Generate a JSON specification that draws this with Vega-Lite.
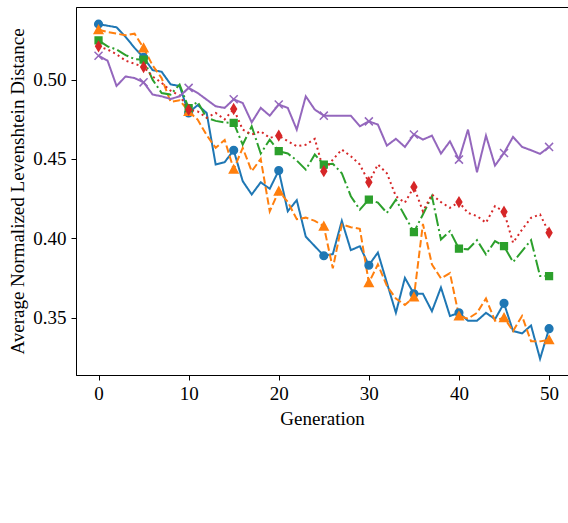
{
"$schema": "https://vega.github.io/schema/vega-lite/v6.json",
"width": 492,
"height": 368,
"autosize": {"type": "none"},
"padding": {"left": 76, "top": 7, "right": 0, "bottom": 148},
"config": {
  "view": {"stroke": "black", "strokeWidth": 1},
  "font": "Liberation Serif",
  "axis": {"labelFont": "Liberation Serif", "titleFont": "Liberation Serif", "labelFontSize": 19, "titleFontSize": 19, "titleFontWeight": "normal", "labelColor": "black", "titleColor": "black", "domainColor": "black", "tickColor": "black", "domainWidth": 1, "tickWidth": 1, "grid": false}
},
"data": {"values": [
{"g":0,"s":"1.00","v":0.535},{"g":1,"s":"1.00","v":0.534},{"g":2,"s":"1.00","v":0.533},{"g":3,"s":"1.00","v":0.527},{"g":4,"s":"1.00","v":0.520},{"g":5,"s":"1.00","v":0.514},{"g":6,"s":"1.00","v":0.506},{"g":7,"s":"1.00","v":0.505},{"g":8,"s":"1.00","v":0.497},{"g":9,"s":"1.00","v":0.496},{"g":10,"s":"1.00","v":0.479},
{"g":11,"s":"1.00","v":0.484},{"g":12,"s":"1.00","v":0.479},{"g":13,"s":"1.00","v":0.4465},{"g":14,"s":"1.00","v":0.448},{"g":15,"s":"1.00","v":0.4555},{"g":16,"s":"1.00","v":0.436},{"g":17,"s":"1.00","v":0.4276},{"g":18,"s":"1.00","v":0.4353},{"g":19,"s":"1.00","v":0.4312},{"g":20,"s":"1.00","v":0.4427},
{"g":21,"s":"1.00","v":0.417},{"g":22,"s":"1.00","v":0.424},{"g":23,"s":"1.00","v":0.401},{"g":24,"s":"1.00","v":0.395},{"g":25,"s":"1.00","v":0.389},{"g":26,"s":"1.00","v":0.390},{"g":27,"s":"1.00","v":0.411},{"g":28,"s":"1.00","v":0.3925},{"g":29,"s":"1.00","v":0.395},{"g":30,"s":"1.00","v":0.383},
{"g":31,"s":"1.00","v":0.391},{"g":32,"s":"1.00","v":0.372},{"g":33,"s":"1.00","v":0.353},{"g":34,"s":"1.00","v":0.375},{"g":35,"s":"1.00","v":0.365},{"g":36,"s":"1.00","v":0.365},{"g":37,"s":"1.00","v":0.354},{"g":38,"s":"1.00","v":0.369},{"g":39,"s":"1.00","v":0.351},{"g":40,"s":"1.00","v":0.353},
{"g":41,"s":"1.00","v":0.348},{"g":42,"s":"1.00","v":0.348},{"g":43,"s":"1.00","v":0.353},{"g":44,"s":"1.00","v":0.349},{"g":45,"s":"1.00","v":0.359},{"g":46,"s":"1.00","v":0.3415},{"g":47,"s":"1.00","v":0.340},{"g":48,"s":"1.00","v":0.345},{"g":49,"s":"1.00","v":0.324},{"g":50,"s":"1.00","v":0.343},
{"g":0,"s":"0.99","v":0.5315},{"g":1,"s":"0.99","v":0.530},{"g":2,"s":"0.99","v":0.529},{"g":3,"s":"0.99","v":0.528},{"g":4,"s":"0.99","v":0.529},{"g":5,"s":"0.99","v":0.520},{"g":6,"s":"0.99","v":0.509},{"g":7,"s":"0.99","v":0.501},{"g":8,"s":"0.99","v":0.486},{"g":9,"s":"0.99","v":0.487},{"g":10,"s":"0.99","v":0.480},
{"g":11,"s":"0.99","v":0.4748},{"g":12,"s":"0.99","v":0.465},{"g":13,"s":"0.99","v":0.457},{"g":14,"s":"0.99","v":0.462},{"g":15,"s":"0.99","v":0.4435},{"g":16,"s":"0.99","v":0.457},{"g":17,"s":"0.99","v":0.4423},{"g":18,"s":"0.99","v":0.450},{"g":19,"s":"0.99","v":0.417},{"g":20,"s":"0.99","v":0.4297},
{"g":21,"s":"0.99","v":0.423},{"g":22,"s":"0.99","v":0.412},{"g":23,"s":"0.99","v":0.413},{"g":24,"s":"0.99","v":0.411},{"g":25,"s":"0.99","v":0.4076},{"g":26,"s":"0.99","v":0.381},{"g":27,"s":"0.99","v":0.4087},{"g":28,"s":"0.99","v":0.407},{"g":29,"s":"0.99","v":0.406},{"g":30,"s":"0.99","v":0.372},
{"g":31,"s":"0.99","v":0.3835},{"g":32,"s":"0.99","v":0.370},{"g":33,"s":"0.99","v":0.362},{"g":34,"s":"0.99","v":0.358},{"g":35,"s":"0.99","v":0.363},{"g":36,"s":"0.99","v":0.409},{"g":37,"s":"0.99","v":0.3835},{"g":38,"s":"0.99","v":0.3747},{"g":39,"s":"0.99","v":0.378},{"g":40,"s":"0.99","v":0.351},
{"g":41,"s":"0.99","v":0.3493},{"g":42,"s":"0.99","v":0.353},{"g":43,"s":"0.99","v":0.362},{"g":44,"s":"0.99","v":0.348},{"g":45,"s":"0.99","v":0.350},{"g":46,"s":"0.99","v":0.3415},{"g":47,"s":"0.99","v":0.351},{"g":48,"s":"0.99","v":0.335},{"g":49,"s":"0.99","v":0.335},{"g":50,"s":"0.99","v":0.336},
{"g":0,"s":"0.95","v":0.5248},{"g":1,"s":"0.95","v":0.521},{"g":2,"s":"0.95","v":0.519},{"g":3,"s":"0.95","v":0.5155},{"g":4,"s":"0.95","v":0.513},{"g":5,"s":"0.95","v":0.5126},{"g":6,"s":"0.95","v":0.500},{"g":7,"s":"0.95","v":0.4916},{"g":8,"s":"0.95","v":0.4906},{"g":9,"s":"0.95","v":0.4969},{"g":10,"s":"0.95","v":0.482},
{"g":11,"s":"0.95","v":0.486},{"g":12,"s":"0.95","v":0.476},{"g":13,"s":"0.95","v":0.474},{"g":14,"s":"0.95","v":0.473},{"g":15,"s":"0.95","v":0.4727},{"g":16,"s":"0.95","v":0.459},{"g":17,"s":"0.95","v":0.4706},{"g":18,"s":"0.95","v":0.4534},{"g":19,"s":"0.95","v":0.4622},{"g":20,"s":"0.95","v":0.4549},
{"g":21,"s":"0.95","v":0.4535},{"g":22,"s":"0.95","v":0.449},{"g":23,"s":"0.95","v":0.4433},{"g":24,"s":"0.95","v":0.4528},{"g":25,"s":"0.95","v":0.4465},{"g":26,"s":"0.95","v":0.447},{"g":27,"s":"0.95","v":0.441},{"g":28,"s":"0.95","v":0.4265},{"g":29,"s":"0.95","v":0.418},{"g":30,"s":"0.95","v":0.4244},
{"g":31,"s":"0.95","v":0.4225},{"g":32,"s":"0.95","v":0.416},{"g":33,"s":"0.95","v":0.4244},{"g":34,"s":"0.95","v":0.414},{"g":35,"s":"0.95","v":0.4039},{"g":36,"s":"0.95","v":0.415},{"g":37,"s":"0.95","v":0.4266},{"g":38,"s":"0.95","v":0.3992},{"g":39,"s":"0.95","v":0.4045},{"g":40,"s":"0.95","v":0.3934},
{"g":41,"s":"0.95","v":0.393},{"g":42,"s":"0.95","v":0.3988},{"g":43,"s":"0.95","v":0.3898},{"g":44,"s":"0.95","v":0.3982},{"g":45,"s":"0.95","v":0.395},{"g":46,"s":"0.95","v":0.385},{"g":47,"s":"0.95","v":0.3919},{"g":48,"s":"0.95","v":0.3988},{"g":49,"s":"0.95","v":0.3762},{"g":50,"s":"0.95","v":0.3762},
{"g":0,"s":"0.90","v":0.521},{"g":1,"s":"0.90","v":0.519},{"g":2,"s":"0.90","v":0.516},{"g":3,"s":"0.90","v":0.512},{"g":4,"s":"0.90","v":0.510},{"g":5,"s":"0.90","v":0.508},{"g":6,"s":"0.90","v":0.502},{"g":7,"s":"0.90","v":0.498},{"g":8,"s":"0.90","v":0.493},{"g":9,"s":"0.90","v":0.490},{"g":10,"s":"0.90","v":0.481},
{"g":11,"s":"0.90","v":0.480},{"g":12,"s":"0.90","v":0.476},{"g":13,"s":"0.90","v":0.479},{"g":14,"s":"0.90","v":0.475},{"g":15,"s":"0.90","v":0.4815},{"g":16,"s":"0.90","v":0.4685},{"g":17,"s":"0.90","v":0.4654},{"g":18,"s":"0.90","v":0.4674},{"g":19,"s":"0.90","v":0.4633},{"g":20,"s":"0.90","v":0.4647},
{"g":21,"s":"0.90","v":0.4612},{"g":22,"s":"0.90","v":0.458},{"g":23,"s":"0.90","v":0.459},{"g":24,"s":"0.90","v":0.4627},{"g":25,"s":"0.90","v":0.4423},{"g":26,"s":"0.90","v":0.4496},{"g":27,"s":"0.90","v":0.4559},{"g":28,"s":"0.90","v":0.4517},{"g":29,"s":"0.90","v":0.4465},{"g":30,"s":"0.90","v":0.4353},
{"g":31,"s":"0.90","v":0.4465},{"g":32,"s":"0.90","v":0.441},{"g":33,"s":"0.90","v":0.4265},{"g":34,"s":"0.90","v":0.4224},{"g":35,"s":"0.90","v":0.4324},{"g":36,"s":"0.90","v":0.417},{"g":37,"s":"0.90","v":0.4276},{"g":38,"s":"0.90","v":0.4228},{"g":39,"s":"0.90","v":0.4192},{"g":40,"s":"0.90","v":0.4228},
{"g":41,"s":"0.90","v":0.416},{"g":42,"s":"0.90","v":0.414},{"g":43,"s":"0.90","v":0.4098},{"g":44,"s":"0.90","v":0.4203},{"g":45,"s":"0.90","v":0.4167},{"g":46,"s":"0.90","v":0.3972},{"g":47,"s":"0.90","v":0.4055},{"g":48,"s":"0.90","v":0.4129},{"g":49,"s":"0.90","v":0.415},{"g":50,"s":"0.90","v":0.4035},
{"g":0,"s":"0.75","v":0.5151},{"g":1,"s":"0.75","v":0.512},{"g":2,"s":"0.75","v":0.496},{"g":3,"s":"0.75","v":0.502},{"g":4,"s":"0.75","v":0.501},{"g":5,"s":"0.75","v":0.4983},{"g":6,"s":"0.75","v":0.4906},{"g":7,"s":"0.75","v":0.4895},{"g":8,"s":"0.75","v":0.4878},{"g":9,"s":"0.75","v":0.4895},{"g":10,"s":"0.75","v":0.4948},
{"g":11,"s":"0.75","v":0.4916},{"g":12,"s":"0.75","v":0.4874},{"g":13,"s":"0.75","v":0.4832},{"g":14,"s":"0.75","v":0.4822},{"g":15,"s":"0.75","v":0.4876},{"g":16,"s":"0.75","v":0.4853},{"g":17,"s":"0.75","v":0.4731},{"g":18,"s":"0.75","v":0.4822},{"g":19,"s":"0.75","v":0.4773},{"g":20,"s":"0.75","v":0.4843},
{"g":21,"s":"0.75","v":0.4822},{"g":22,"s":"0.75","v":0.4685},{"g":23,"s":"0.75","v":0.4895},{"g":24,"s":"0.75","v":0.4811},{"g":25,"s":"0.75","v":0.4773},{"g":26,"s":"0.75","v":0.4773},{"g":27,"s":"0.75","v":0.4773},{"g":28,"s":"0.75","v":0.4773},{"g":29,"s":"0.75","v":0.4706},{"g":30,"s":"0.75","v":0.4737},
{"g":31,"s":"0.75","v":0.4717},{"g":32,"s":"0.75","v":0.4584},{"g":33,"s":"0.75","v":0.4627},{"g":34,"s":"0.75","v":0.4576},{"g":35,"s":"0.75","v":0.4654},{"g":36,"s":"0.75","v":0.4622},{"g":37,"s":"0.75","v":0.4647},{"g":38,"s":"0.75","v":0.4534},{"g":39,"s":"0.75","v":0.4611},{"g":40,"s":"0.75","v":0.4496},
{"g":41,"s":"0.75","v":0.4685},{"g":42,"s":"0.75","v":0.4416},{"g":43,"s":"0.75","v":0.4647},{"g":44,"s":"0.75","v":0.4458},{"g":45,"s":"0.75","v":0.4538},{"g":46,"s":"0.75","v":0.4639},{"g":47,"s":"0.75","v":0.4576},{"g":48,"s":"0.75","v":0.4555},{"g":49,"s":"0.75","v":0.4532},{"g":50,"s":"0.75","v":0.4576}
]},
"encoding": {
  "x": {"field": "g", "type": "quantitative", "scale": {"domain": [-2.5, 52.1], "nice": false, "zero": false},
        "axis": {"values": [0, 10, 20, 30, 40, 50], "title": "Generation", "tickSize": 5, "labelPadding": 4, "titlePadding": 6}},
  "y": {"field": "v", "type": "quantitative", "scale": {"domain": [0.3138, 0.5458], "nice": false, "zero": false},
        "axis": {"values": [0.35, 0.4, 0.45, 0.5], "format": ".2f", "title": "Average Normalized Levenshtein Distance", "tickSize": 5, "labelPadding": 5, "titlePadding": 5}}
},
"layer": [
  {
    "mark": {"type": "line", "strokeWidth": 2},
    "encoding": {
      "color": {"field": "s", "type": "nominal", "scale": {"domain": ["1.00", "0.95", "0.75", "0.99", "0.90"], "range": ["#1f77b4", "#2ca02c", "#9467bd", "#ff7f0e", "#d62728"]}, "legend": null},
      "strokeDash": {"field": "s", "type": "nominal", "scale": {"domain": ["1.00", "0.95", "0.75", "0.99", "0.90"], "range": [[1, 0], [12.8, 3.2, 2, 3.2], [1, 0], [7.4, 3.2], [2, 3.3]]}, "legend": null}
    }
  },
  {
    "transform": [{"filter": "datum.g % 5 == 0"}],
    "mark": {"type": "point", "filled": true, "opacity": 1, "size": 81, "strokeWidth": 1.5},
    "encoding": {
      "fill": {"field": "s", "type": "nominal",
        "scale": {"domain": ["1.00", "0.95", "0.75", "0.99", "0.90"], "range": ["#1f77b4", "#2ca02c", "#9467bd", "#ff7f0e", "#d62728"]},
        "legend": {"title": null, "orient": "none", "legendX": 20, "legendY": 453, "columns": 3, "symbolSize": 81, "symbolStrokeWidth": 1.5, "symbolOffset": 11, "labelOffset": 36, "columnPadding": 40, "rowPadding": 8, "padding": 6, "strokeColor": "#cccccc", "fillColor": "white", "labelFont": "Liberation Serif", "labelFontSize": 19, "labelColor": "black", "labelExpr": "'λ = ' + datum.label"}},
      "stroke": {"field": "s", "type": "nominal",
        "scale": {"domain": ["1.00", "0.95", "0.75", "0.99", "0.90"], "range": ["#1f77b4", "#2ca02c", "#9467bd", "#ff7f0e", "#d62728"]},
        "legend": {"title": null, "orient": "none", "legendX": 20, "legendY": 453, "columns": 3, "symbolSize": 81, "symbolStrokeWidth": 1.5, "symbolOffset": 11, "labelOffset": 36, "columnPadding": 40, "rowPadding": 8, "padding": 6, "strokeColor": "#cccccc", "fillColor": "white", "labelFont": "Liberation Serif", "labelFontSize": 19, "labelColor": "black", "labelExpr": "'λ = ' + datum.label"}},
      "shape": {"field": "s", "type": "nominal",
        "scale": {"domain": ["1.00", "0.95", "0.75", "0.99", "0.90"], "range": [
          "M-0.85,0A0.85,0.85 0 1,0 0.85,0A0.85,0.85 0 1,0 -0.85,0Z",
          "M-0.75,-0.75L0.75,-0.75L0.75,0.75L-0.75,0.75Z",
          "M-0.89,-0.89L0.89,0.89M-0.89,0.89L0.89,-0.89",
          "M0,-0.9L-0.95,0.85L0.95,0.85Z",
          "M0,-1.05L0.63,0L0,1.05L-0.63,0Z"
        ]},
        "legend": {"title": null, "orient": "none", "legendX": 20, "legendY": 453, "columns": 3, "symbolSize": 81, "symbolStrokeWidth": 1.5, "symbolOffset": 11, "labelOffset": 36, "columnPadding": 40, "rowPadding": 8, "padding": 6, "strokeColor": "#cccccc", "fillColor": "white", "labelFont": "Liberation Serif", "labelFontSize": 19, "labelColor": "black", "labelExpr": "'λ = ' + datum.label"}}
    }
  }
]
}
